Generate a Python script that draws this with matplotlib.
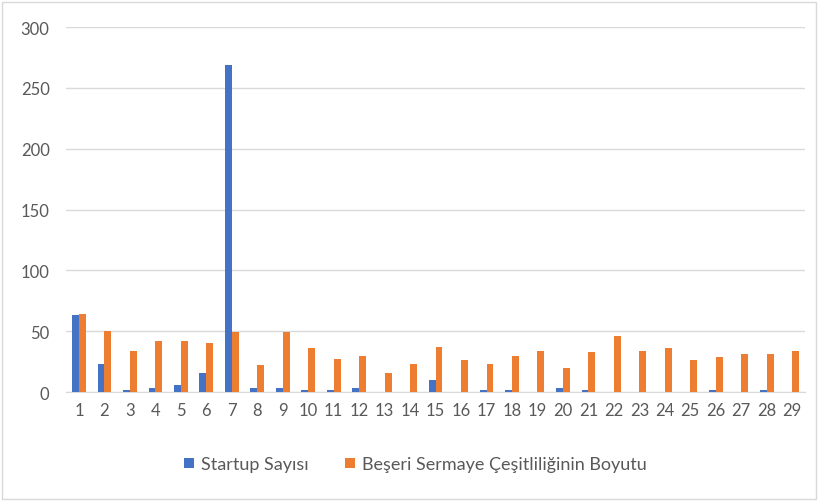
import matplotlib
matplotlib.use("Agg")
import matplotlib.pyplot as plt
from matplotlib.patches import Rectangle
import numpy as np

categories = [str(i) for i in range(1, 30)]
startup_counts = [63, 23, 2, 3, 6, 16, 269, 3, 3, 2,
                  2, 3, 0, 0, 10, 0, 2, 2, 0, 3,
                  2, 0, 0, 0, 0, 2, 0, 2, 0]
human_capital = [64, 50, 34, 42, 42, 40, 49, 22, 49, 36,
                 27, 30, 16, 23, 37, 26, 23, 30, 34, 20,
                 33, 46, 34, 36, 26, 29, 31, 31, 34]
series_labels = ["Startup Sayısı", "Beşeri Sermaye Çeşitliliğinin Boyutu"]
y_ticks = [0, 50, 100, 150, 200, 250, 300]

plt.rcParams["font.family"] = ["Lato", "DejaVu Sans"]
text_color = "#595959"
blue = "#4472C4"
orange = "#ED7D31"

fig = plt.figure(figsize=(8.18, 5.02), dpi=100)
fig.patches.append(Rectangle((0.003, 0.004), 0.994, 0.99, transform=fig.transFigure,
                             fill=False, edgecolor="#d9d9d9", linewidth=1))
ax = fig.add_axes([0.081, 0.217, 0.903, 0.727])

x = np.arange(1, len(categories) + 1)
w = 0.27
ax.bar(x - w / 2, startup_counts, width=w, color=blue, label=series_labels[0], zorder=3)
ax.bar(x + w / 2, human_capital, width=w, color=orange, label=series_labels[1], zorder=3)

ax.set_xlim(0.5, len(categories) + 0.5)
ax.set_ylim(0, 300)
ax.set_yticks(y_ticks)
ax.set_xticks(x)
ax.set_xticklabels(categories)
ax.yaxis.grid(True, color="#d9d9d9", linewidth=1, zorder=0)
for side in ["top", "right", "left"]:
    ax.spines[side].set_visible(False)
ax.spines["bottom"].set_color("#d9d9d9")
ax.tick_params(axis="both", length=0, colors=text_color, labelsize=12)
ax.tick_params(axis="y", pad=12)
ax.tick_params(axis="x", pad=7)

fig.legend(loc="center", bbox_to_anchor=(0.508, 0.073), ncol=2, frameon=False,
           fontsize=13, labelcolor=text_color, handlelength=0.55, handleheight=0.55,
           columnspacing=2.0, handletextpad=0.4)

fig.savefig("out.png", dpi=100)
